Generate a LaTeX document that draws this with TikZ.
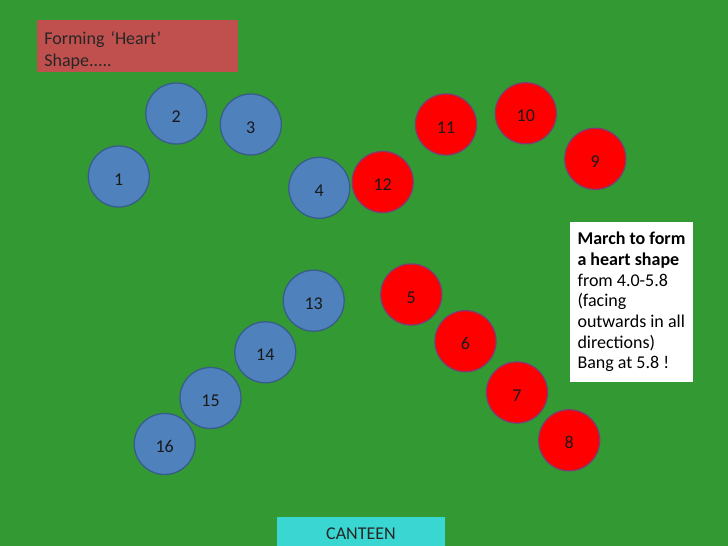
\documentclass[tikz,border=0pt]{standalone}
\usepackage{fontspec}
\setmainfont{Carlito}
\usepackage{tikz}
\definecolor{field}{HTML}{339933}
\definecolor{dotblue}{HTML}{4F81BD}
\definecolor{blueedge}{HTML}{385D8A}
\definecolor{dotred}{HTML}{FF0000}
\definecolor{rededge}{HTML}{84396E}
\definecolor{titlered}{HTML}{C0504D}
\definecolor{canteencyan}{HTML}{3AD7D2}

\tikzset{
  dancer/.style={circle, minimum size=61pt, inner sep=0pt, line width=1.3pt,
    text height=17pt, text depth=0pt,
    font=\fontsize{18}{21}\selectfont, text=black!90},
  bluedot/.style={dancer, fill=dotblue, draw=blueedge},
  reddot/.style={dancer, fill=dotred, draw=rededge},
  titlebox/.style={rectangle, fill=titlered, minimum width=201pt, minimum height=50pt,
    text width=187pt, inner xsep=7pt, align=left, font=\fontsize{18}{22}\selectfont, text=black!85},
  notebox/.style={rectangle, fill=white, minimum width=123pt, minimum height=160pt,
    align=left, font=\fontsize{18}{20.7}\selectfont},
  canteenbox/.style={rectangle, fill=canteencyan, minimum width=168pt, minimum height=29pt,
    text height=15pt, text depth=0pt,
    font=\fontsize{18}{22}\selectfont, text=black!85}
}

\begin{document}
\begin{tikzpicture}[x=1pt, y=-1pt]

\useasboundingbox[fill=field] (0,0) rectangle (728,546);

\node[titlebox] (title) at (137.8,46) {\rule{0pt}{21pt}Forming ‘Heart’\\Shape.....};

\node[bluedot] (p1) at (118.8,176.5) {1};
\node[bluedot] (p2) at (176.3,113.5) {2};
\node[bluedot] (p3) at (250.8,124.5) {3};
\node[bluedot] (p4) at (319.3,187.8) {4};
\node[reddot] (p12) at (382.7,182) {12};
\node[reddot] (p11) at (446,124.5) {11};
\node[reddot] (p10) at (525.8,113.3) {10};
\node[reddot] (p9) at (595.3,158.8) {9};

\node[reddot] (p5) at (411.3,294.5) {5};
\node[reddot] (p6) at (465.5,341.2) {6};
\node[reddot] (p7) at (517,392.5) {7};
\node[reddot] (p8) at (569.2,440.3) {8};

\node[bluedot] (p13) at (313.7,300.7) {13};
\node[bluedot] (p14) at (265.3,352.3) {14};
\node[bluedot] (p15) at (210.5,398) {15};
\node[bluedot] (p16) at (164.7,444) {16};

\node[notebox] (note) at (631.5,302) {\textbf{March to form}\\\textbf{a heart shape}\\from 4.0-5.8\\(facing\\outwards in all\\directions)\\Bang at 5.8 !};

\node[canteenbox] (canteen) at (361,531.5) {CANTEEN};

\end{tikzpicture}
\end{document}
